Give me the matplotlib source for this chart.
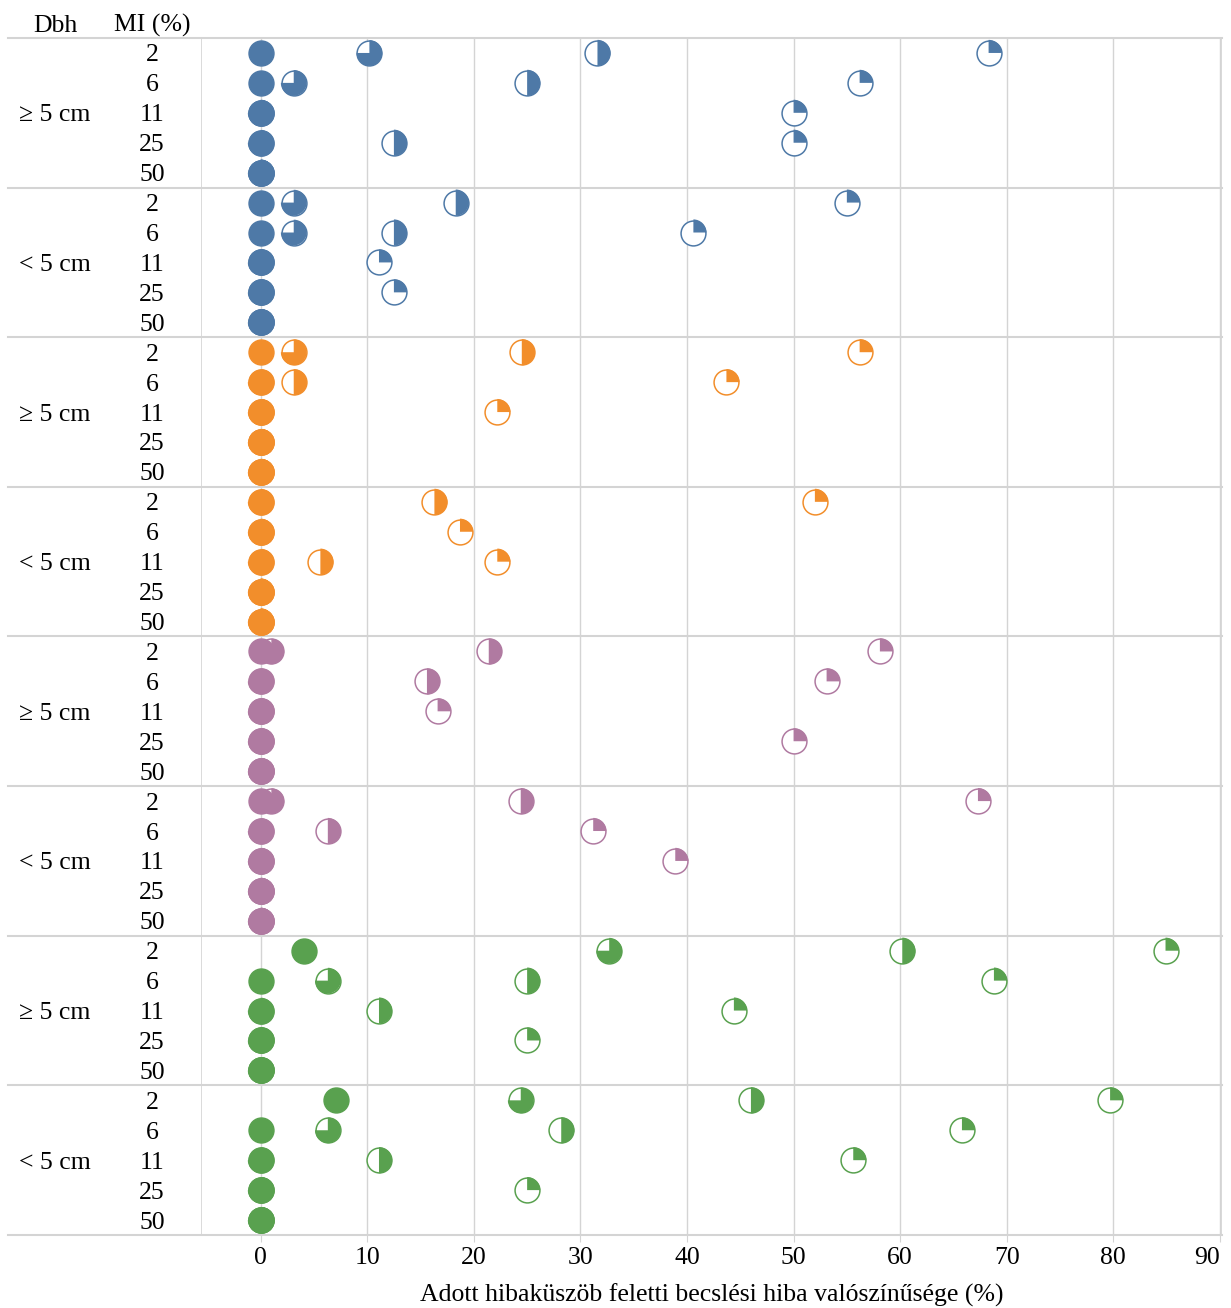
import matplotlib
matplotlib.use("Agg")
import matplotlib.pyplot as plt
from matplotlib.path import Path
import numpy as np

# ---------------- data ----------------
mi_labels = ["2", "6", "11", "25", "50"]
dbh_labels = ["\u2265 5 cm", "< 5 cm"] * 4
group_colors = ["#4E79A7", "#4E79A7", "#F28E2B", "#F28E2B",
                "#B07AA1", "#B07AA1", "#59A14F", "#59A14F"]
x_ticks = [0, 10, 20, 30, 40, 50, 60, 70, 80, 90]
x_label = "Adott hibaküszöb feletti becslési hiba valószínűsége (%)"

# probability (%) for each error threshold; rows = 8 groups, cols = MI 2,6,11,25,50
full = [
    [0, 0, 0, 0, 0],
    [0, 0, 0, 0, 0],
    [0, 0, 0, 0, 0],
    [0, 0, 0, 0, 0],
    [0, 0, 0, 0, 0],
    [0, 0, 0, 0, 0],
    [4.1, 0, 0, 0, 0],
    [7.1, 0, 0, 0, 0],
]
three_q = [
    [10.2, 3.1, 0, 0, 0],
    [3.1, 3.1, 0, 0, 0],
    [3.1, 0, 0, 0, 0],
    [0, 0, 0, 0, 0],
    [1.0, 0, 0, 0, 0],
    [1.0, 0, 0, 0, 0],
    [32.7, 6.3, 0, 0, 0],
    [24.4, 6.3, 0, 0, 0],
]
half = [
    [31.6, 25.0, 0, 12.5, 0],
    [18.3, 12.5, 0, 0, 0],
    [24.5, 3.1, 0, 0, 0],
    [16.3, 0, 5.6, 0, 0],
    [21.4, 15.6, 0, 0, 0],
    [24.4, 6.3, 0, 0, 0],
    [60.2, 25.0, 11.1, 0, 0],
    [46.0, 28.2, 11.1, 0, 0],
]
quarter = [
    [68.3, 56.2, 50.0, 50.0, 0],
    [55.0, 40.6, 11.1, 12.5, 0],
    [56.2, 43.7, 22.2, 0, 0],
    [52.0, 18.7, 22.2, 0, 0],
    [58.1, 53.1, 16.6, 50.0, 0],
    [67.3, 31.2, 38.9, 0, 0],
    [84.9, 68.8, 44.4, 25.0, 0],
    [79.7, 65.8, 55.6, 25.0, 0],
]

# ---------------- figure ----------------
W, H = 1231, 1308
fig = plt.figure(figsize=(W / 100, H / 100), dpi=100)
L, R, T, B = 201, 1222, 38, 1235
ax = fig.add_axes([L / W, 1 - B / H, (R - L) / W, (B - T) / H])

serif = ["Liberation Serif", "DejaVu Serif"]
fs = 18.5
grid_c = "#D4D4D4"

n_groups = len(dbh_labels)
n_mi = len(mi_labels)
n_rows = n_groups * n_mi

ax.set_xlim(-5.6, 90.2)
ax.set_ylim(n_rows - 0.5, -0.5)

# marker shapes
wedge_q = Path.wedge(0, 90)
wedge_h = Path.wedge(-90, 90)
wedge_3q = Path.wedge(-180, 90)
lw = 1.1
ms = 320
ms_w = (np.sqrt(ms) + lw * 0.9) ** 2

def draw_level(values, wedge, z):
    for g in range(n_groups):
        ys = np.arange(n_mi) + g * n_mi
        xs = np.array(values[g], dtype=float)
        c = group_colors[g]
        if wedge is None:
            ax.scatter(xs, ys, s=ms, marker="o", facecolor=c, edgecolor=c,
                       linewidths=lw, zorder=z, clip_on=False)
        else:
            ax.scatter(xs, ys, s=ms, marker="o", facecolor="white", edgecolor=c,
                       linewidths=lw, zorder=z, clip_on=False)
            ax.scatter(xs, ys, s=ms_w, marker=wedge, facecolor=c, edgecolor="none",
                       linewidths=0, zorder=z + 0.1, clip_on=False)

draw_level(quarter, wedge_q, 3)
draw_level(half, wedge_h, 4)
draw_level(three_q, wedge_3q, 5)
draw_level(full, None, 6)

# grid / spines
for xv in x_ticks:
    ax.axvline(xv, color=grid_c, lw=1.0, zorder=1)
for s in ["top", "bottom", "left", "right"]:
    ax.spines[s].set_visible(False)
ax.axvline(-5.6, color=grid_c, lw=1.2, zorder=1)
ax.axvline(90.2, color=grid_c, lw=1.2, zorder=1)

ytr = ax.get_yaxis_transform()
x_left = (8 - L) / (R - L)
for g in range(n_groups + 1):
    yb = g * n_mi - 0.5
    ax.plot([x_left, 1.0], [yb, yb], color=grid_c, lw=1.5, transform=ytr,
            clip_on=False, zorder=1)

# ticks
ax.set_xticks(x_ticks)
ax.set_xticklabels([str(v) for v in x_ticks], fontfamily=serif, fontsize=fs)
ax.tick_params(axis="x", length=5, color=grid_c, pad=4)
ax.set_yticks([])
lbls = ax.get_xticklabels()
lbls[-1].set_ha("right")

ax.set_xlabel(x_label, fontfamily=serif, fontsize=fs, labelpad=10)

# row labels
x_mi = (152 - L) / (R - L)
x_dbh = (55 - L) / (R - L)
for g in range(n_groups):
    for i in range(n_mi):
        ax.text(x_mi, g * n_mi + i, mi_labels[i], transform=ytr, ha="center",
                va="center_baseline", fontfamily=serif, fontsize=fs)
    ax.text(x_dbh, g * n_mi + 2, dbh_labels[g], transform=ytr, ha="center",
            va="center_baseline", fontfamily=serif, fontsize=fs)

ax.text(x_dbh, -1.0, "Dbh", transform=ytr, ha="center", va="center_baseline",
        fontfamily=serif, fontsize=fs)
ax.text(x_mi, -1.0, "MI (%)", transform=ytr, ha="center", va="center_baseline",
        fontfamily=serif, fontsize=fs)

fig.savefig("out.png", dpi=100)
